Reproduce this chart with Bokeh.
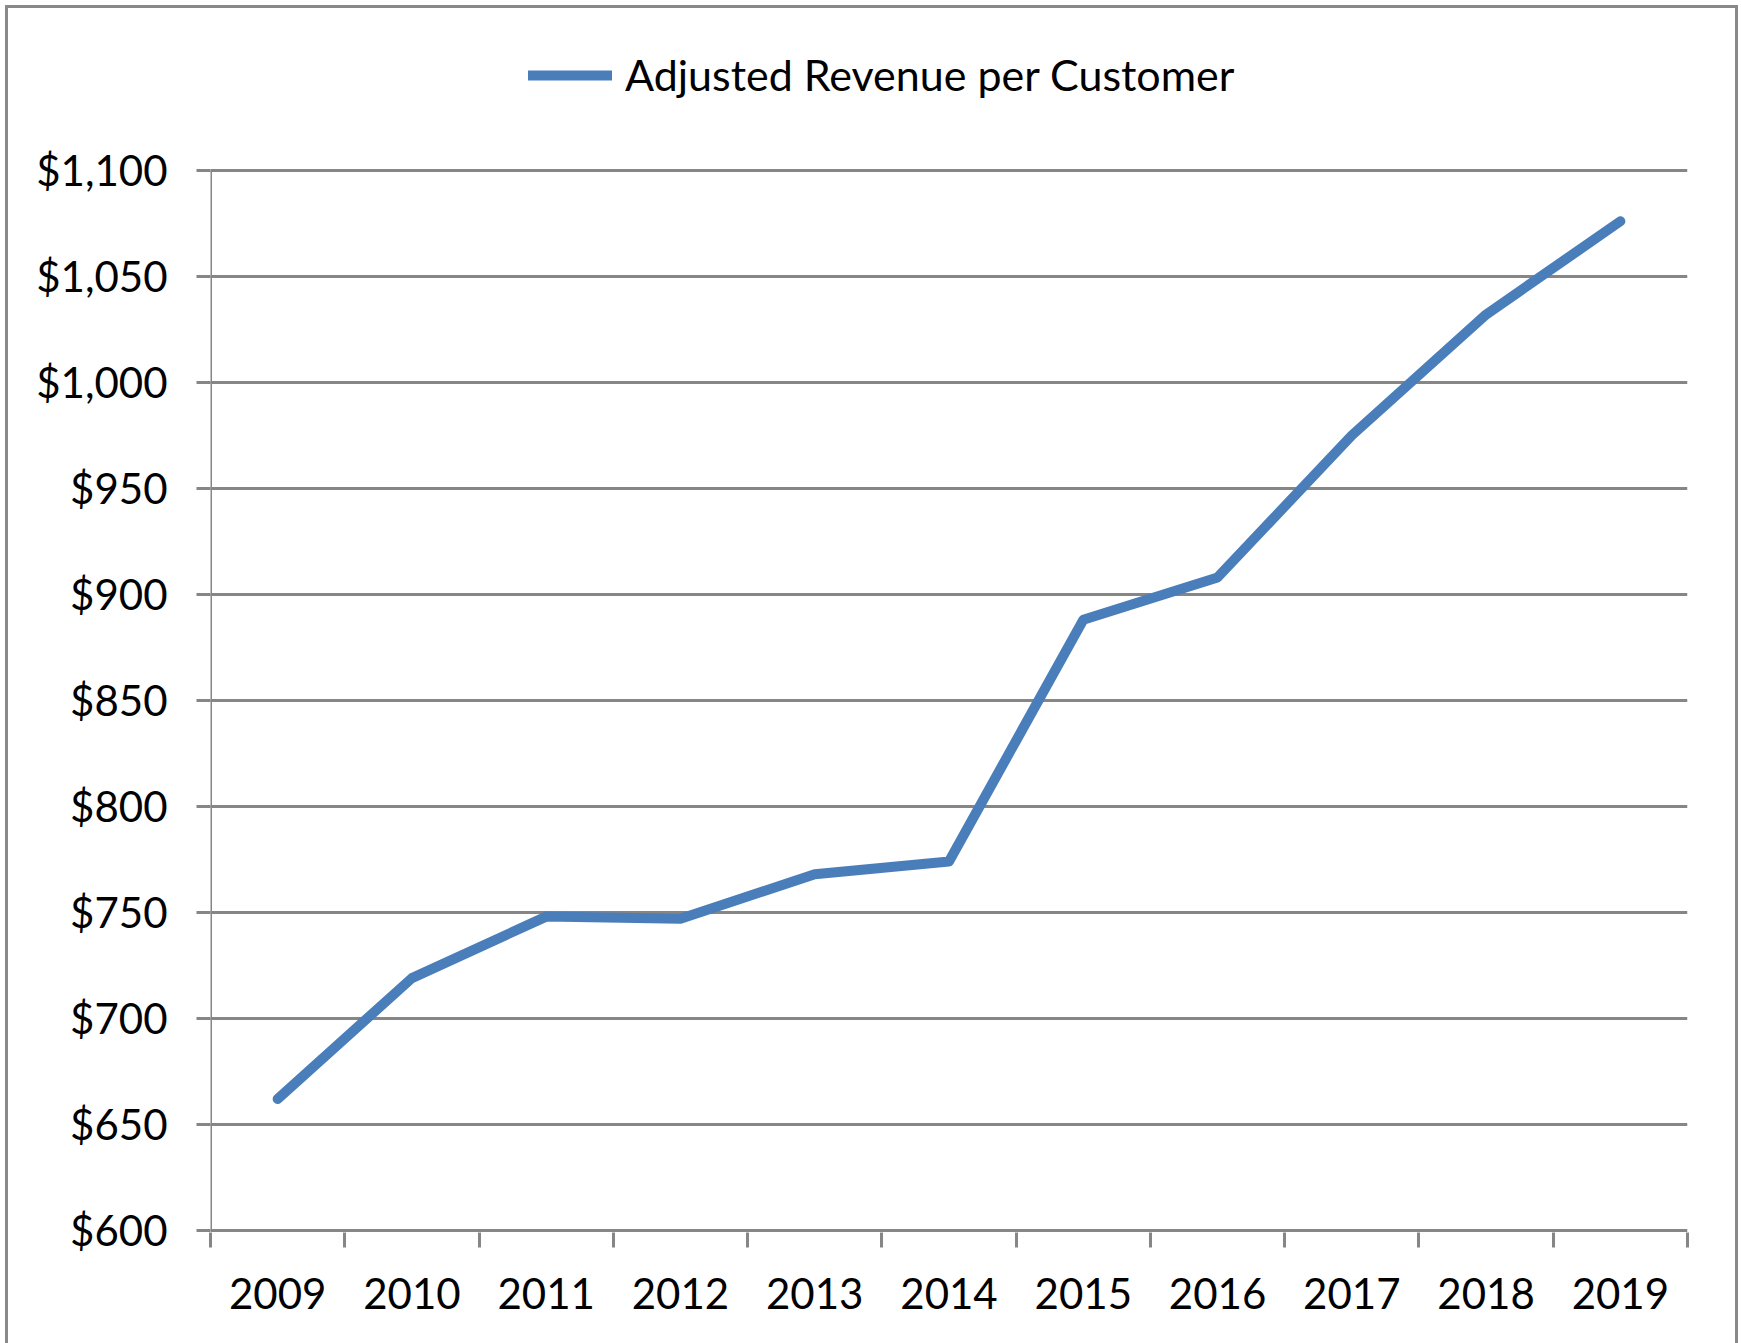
from bokeh.plotting import figure
from bokeh.models import (FixedTicker, NumeralTickFormatter, Legend, LegendItem,
                          Range1d)
from bokeh.embed import file_html
from bokeh.resources import INLINE

years = [2009, 2010, 2011, 2012, 2013, 2014, 2015, 2016, 2017, 2018, 2019]
revenue = [662, 719, 748, 747, 768, 774, 888, 908, 975, 1032, 1076]
y_ticks = [600, 650, 700, 750, 800, 850, 900, 950, 1000, 1050, 1100]
series_name = "Adjusted Revenue per Customer"

GRAY = "#868686"
BLUE = "#4A7EBB"
FONT = "Lato"
FS = "42px"
LW = 3

# frame spans from the legend area down to the x axis; 1100 sits at ~170px
p = figure(width=1741, height=1343, output_backend="svg", toolbar_location=None,
           x_range=Range1d(years[0] - 0.5, years[-1] + 0.5),
           y_range=Range1d(y_ticks[0] - 1, 1161.26),
           min_border_left=210, min_border_right=54,
           min_border_top=40, min_border_bottom=111)
p.outline_line_color = None
p.background_fill_color = None
p.border_fill_color = None
g = "linear-gradient(#898989,#898989)"
p.styles = {
    "background": (f"{g} 5px 5px / 3px 100% no-repeat, "
                   f"{g} 5px 5px / calc(100% - 8px) 3px no-repeat, "
                   f"{g} calc(100% - 3px) 5px / 3px 100% no-repeat, white"),
}

line = p.line(years, revenue, line_color=BLUE, line_width=10,
              line_cap="round", line_join="round")

# grid
p.xgrid.visible = False
p.ygrid.ticker = FixedTicker(ticks=y_ticks)
p.ygrid.grid_line_color = GRAY
p.ygrid.grid_line_width = LW

# y axis line only between the first and last tick
p.segment(x0=[years[0] - 0.5], y0=[y_ticks[0]], x1=[years[0] - 0.5], y1=[y_ticks[-1]],
          line_color=GRAY, line_width=LW)

ya = p.yaxis[0]
ya.ticker = FixedTicker(ticks=y_ticks)
ya.formatter = NumeralTickFormatter(format="$0,0")
ya.major_tick_out = 14
ya.major_tick_in = 0
ya.minor_tick_out = 0
ya.minor_tick_in = 0
ya.axis_line_color = None
ya.major_tick_line_color = GRAY
ya.major_tick_line_width = LW
ya.major_label_standoff = 29
ya.major_label_text_font = FONT
ya.major_label_text_font_size = FS
ya.major_label_text_color = "black"

# x axis: labels at year centres, tick marks at category boundaries
xa = p.xaxis[0]
xa.ticker = FixedTicker(ticks=years,
                        minor_ticks=[y - 0.5 for y in years] + [years[-1] + 0.5])
xa.major_label_overrides = {y: str(y) for y in years}
xa.major_tick_out = 0
xa.major_tick_in = 0
xa.minor_tick_out = 15
xa.minor_tick_in = 0
xa.minor_tick_line_color = GRAY
xa.minor_tick_line_width = LW
xa.axis_line_color = None
xa.major_label_standoff = 30
xa.major_label_text_font = FONT
xa.major_label_text_font_size = FS
xa.major_label_text_color = "black"

legend = Legend(items=[LegendItem(label=series_name, renderers=[line])],
                location=(318, 1132), orientation="horizontal",
                glyph_width=84, glyph_height=48, label_standoff=13,
                padding=0, margin=0, spacing=0,
                border_line_color=None, background_fill_alpha=0,
                label_text_font=FONT, label_text_font_size="43px",
                label_text_color="black", label_height=48)
p.add_layout(legend)

open("out.html", "w").write(file_html(p, INLINE))
